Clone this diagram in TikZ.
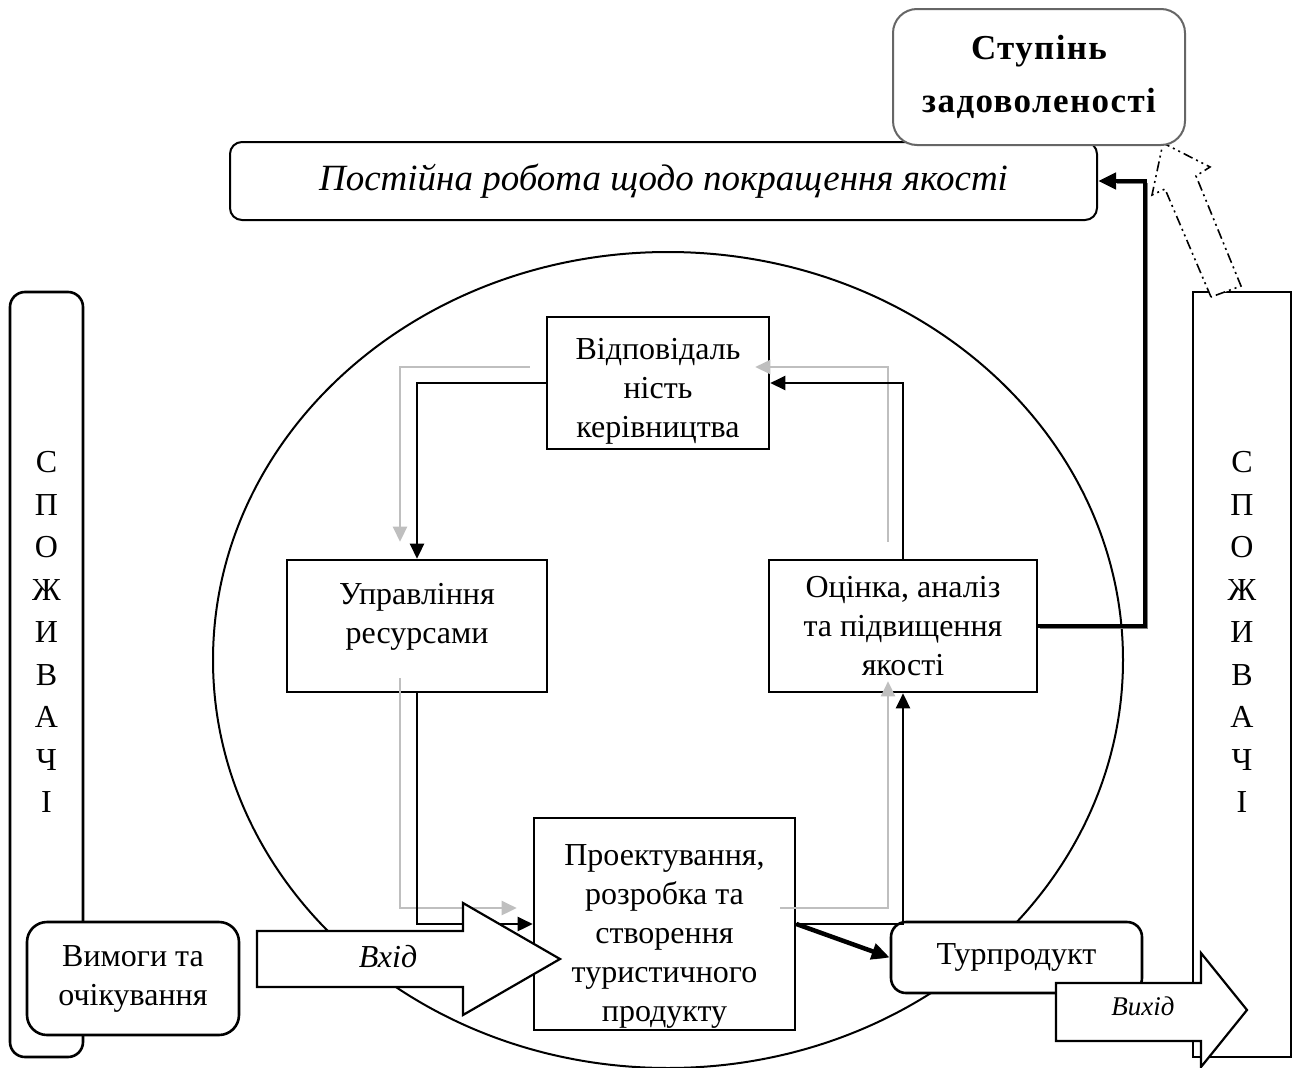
\documentclass[tikz,border=0pt]{standalone}
\usepackage{fontspec}
\setmainfont{Liberation Serif}
\usetikzlibrary{arrows.meta}
\begin{document}
\begin{tikzpicture}[x=1pt,y=-1pt,
    every node/.style={font=\fontsize{32}{39}\selectfont},
    box/.style={draw, line width=2.6pt, fill=white, align=center, inner sep=0pt},
    rbox/.style={box, rounded corners=18pt},
    vtext/.style={align=center, font=\fontsize{32}{42.5}\selectfont},
    conn/.style={line width=2.6pt, -{Triangle[length=15pt,width=14pt]}},
    gconn/.style={conn, draw=black!25},
    thickconn/.style={line width=4.5pt, -{Triangle[length=18pt,width=16pt]}, preaction={draw=gray, transform canvas={shift={(2pt,-2pt)}}}},
    blockarr/.style={draw, line width=2.2pt, fill=white, line join=miter},
    dashblock/.style={draw, line width=1.6pt, fill=white, dash pattern=on 10pt off 4pt on 2pt off 4pt on 2pt off 4pt}]
    \useasboundingbox (0,0) rectangle (1299,1068);
    \draw[line width=2pt] (668,660) ellipse [x radius=455, y radius=408];
    \node[rbox, rounded corners=15pt, minimum width=73pt, minimum height=765pt] (consL) at (46.5,674.5) {};
    \node[vtext] (consLt) at (46.5,632) {С\\П\\О\\Ж\\И\\В\\А\\Ч\\І};
    \node[box, minimum width=98pt, minimum height=765pt] (consR) at (1242,674.5) {};
    \node[vtext] (consRt) at (1242,632) {С\\П\\О\\Ж\\И\\В\\А\\Ч\\І};
    \node[rbox, line width=2pt, rounded corners=12pt, minimum width=867pt, minimum height=78pt, font=\fontsize{37}{39}\selectfont\itshape] (impr) at (663.5,181) {Постійна робота щодо покращення якості};
    \draw[dashblock] (1211,297) -- (1165,189) -- (1152,195) -- (1163,143) -- (1210,167) -- (1196,176) -- (1241,286) -- cycle;
    \node[rbox, draw=black!60, line width=2pt, rounded corners=24pt, minimum width=292pt, minimum height=136pt, font=\fontsize{35}{53}\selectfont\bfseries\addfontfeatures{LetterSpace=4}] (sat) at (1039,77) {Ступінь\\задоволеності};

    \node[box, minimum width=222pt, minimum height=132pt] (resp) at (658,383) {\mbox{}\\[-1pt]Відповідаль\\ність\\керівництва};
    \node[box, minimum width=260pt, minimum height=132pt] (res) at (417,626) {Управління\\ресурсами\\[-14pt]\mbox{}};
    \node[box, minimum width=268pt, minimum height=132pt] (eval) at (903,626) {Оцінка, аналіз\\та підвищення\\якості};
    \node[box, minimum width=261pt, minimum height=212pt] (des) at (664.5,924) {\mbox{}\\[6pt]Проектування,\\розробка та\\створення\\туристичного\\продукту};
    \node[rbox, rounded corners=15pt, minimum width=251pt, minimum height=71pt] (prod) at (1016.5,957.5) {Турпродукт};
    \node[rbox, rounded corners=20pt, minimum width=212pt, minimum height=113pt] (req) at (133,978.5) {Вимоги та\\очікування};

    \draw[gconn] ([shift={(-16,-16)}]resp.west) -| ([shift={(-17,-17)}]res.north);
    \draw[gconn] ([shift={(-15,-17)}]eval.north) |- ([shift={(-15,-16)}]resp.east);
    \draw[gconn] ([shift={(-17,-15)}]res.south) |- ([shift={(-16,-16)}]des.west);
    \draw[gconn] ([shift={(-16,-16)}]des.east) -| ([shift={(-15,-12)}]eval.south);
    \draw[conn] (resp.west) -| (res.north);
    \draw[conn] (eval.north) |- (resp.east);
    \draw[conn] (res.south) |- (des.west);
    \draw[conn] (des.east) -| (eval.south);
    \draw[thickconn] (des.east) -- (prod.west);
    \coordinate (fbk) at (1145,400);
    \draw[thickconn] (eval.east) -| (fbk) |- (impr.east);

    \draw[blockarr] (257,931) -- (463,931) -- (463,903) -- (560,959) -- (463,1015) -- (463,987) -- (257,987) -- cycle;
    \node[font=\fontsize{32}{36}\selectfont\itshape] (inp) at (388,957) {Вхід};
    \draw[blockarr] (1056,983) -- (1201,983) -- (1201,953) -- (1247,1010) -- (1201,1067) -- (1201,1041) -- (1056,1041) -- cycle;
    \node[font=\fontsize{27}{30}\selectfont\itshape] (outp) at (1143,1006) {Вихід};
\end{tikzpicture}
\end{document}
